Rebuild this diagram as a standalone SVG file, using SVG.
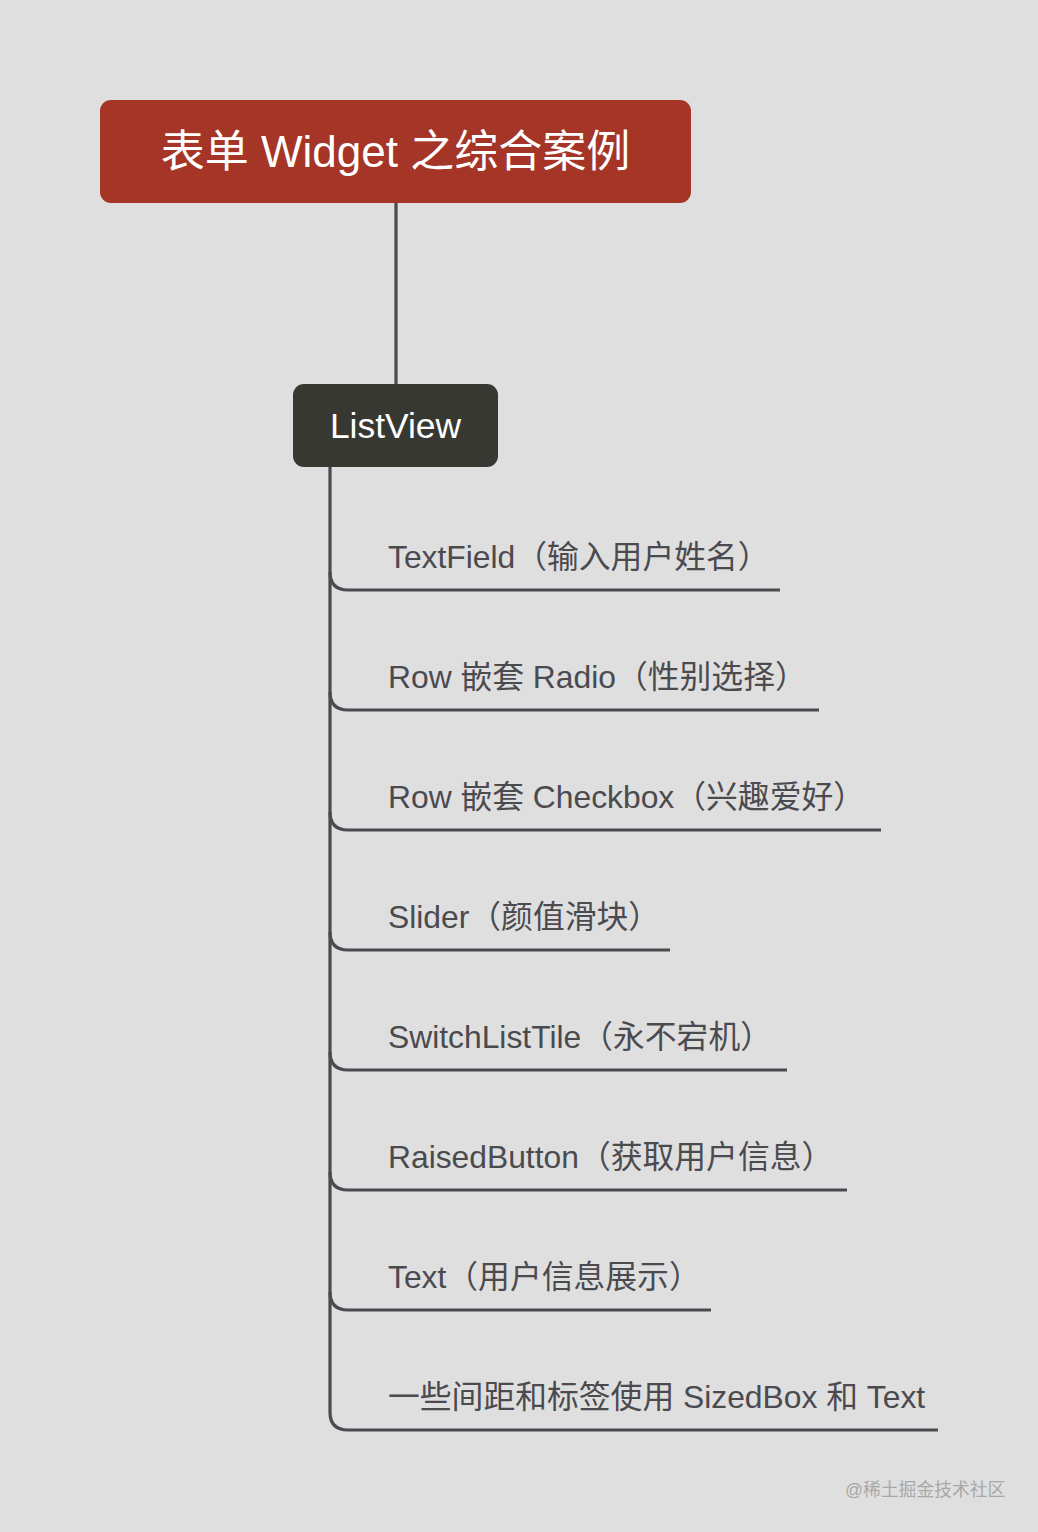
<svg xmlns="http://www.w3.org/2000/svg" width="1038" height="1532" viewBox="0 0 1038 1532">
<defs>
<style>
.bg{fill:#dfdfdf}
.t{font-family:"Liberation Sans","Noto Sans CJK SC",sans-serif}
.child{font-size:31.8px;fill:#4b4a4f}
.ln{fill:none;stroke:#4b4a50;stroke-width:3.2;stroke-linecap:butt}
</style>
</defs>
<rect class="bg" x="0" y="0" width="1038" height="1532"/>
<g id="connectors">
<path class="ln" d="M396,203 V384"/>
<path class="ln" d="M330,467 V1412 Q330,1430 348,1430 H938"/>
<path class="ln" d="M330,572 Q330,590 348,590 H780"/>
<path class="ln" d="M330,692 Q330,710 348,710 H819"/>
<path class="ln" d="M330,812 Q330,830 348,830 H881"/>
<path class="ln" d="M330,932 Q330,950 348,950 H670"/>
<path class="ln" d="M330,1052 Q330,1070 348,1070 H787"/>
<path class="ln" d="M330,1172 Q330,1190 348,1190 H847"/>
<path class="ln" d="M330,1292 Q330,1310 348,1310 H711"/>
</g>
<g id="root">
<rect x="100" y="100" width="591" height="103" rx="11" fill="#a53526"/>
<text class="t" x="395.5" y="167" font-size="44" fill="#ffffff" text-anchor="middle">表单 Widget 之综合案例</text>
</g>
<g id="listview">
<rect x="293" y="384" width="205" height="83" rx="11" fill="#383833"/>
<text class="t" x="395.5" y="438" font-size="35.4" fill="#ffffff" text-anchor="middle">ListView</text>
</g>
<g id="n1"><text class="t child" x="388" y="568">TextField（输入用户姓名）</text></g>
<g id="n2"><text class="t child" x="388" y="688">Row 嵌套 Radio（性别选择）</text></g>
<g id="n3"><text class="t child" x="388" y="808">Row 嵌套 Checkbox（兴趣爱好）</text></g>
<g id="n4"><text class="t child" x="388" y="928">Slider（颜值滑块）</text></g>
<g id="n5"><text class="t child" x="388" y="1048">SwitchListTile（永不宕机）</text></g>
<g id="n6"><text class="t child" x="388" y="1168">RaisedButton（获取用户信息）</text></g>
<g id="n7"><text class="t child" x="388" y="1288">Text（用户信息展示）</text></g>
<g id="n8"><text class="t child" x="388" y="1408">一些间距和标签使用 SizedBox 和 Text</text></g>
<text class="t" x="845" y="1496" font-size="17.8" fill="#a8a8a8">@稀土掘金技术社区</text>
</svg>
